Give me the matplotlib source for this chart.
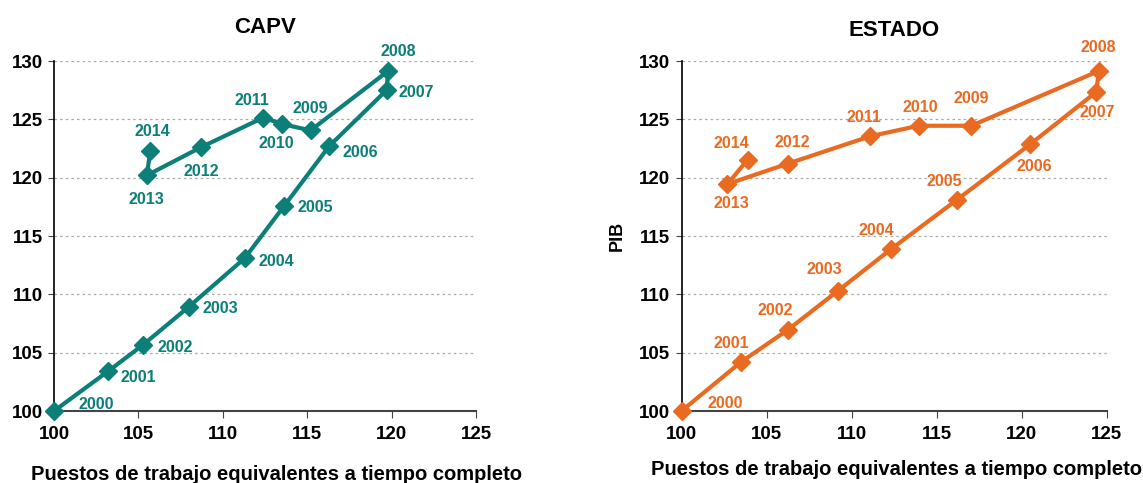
import matplotlib
matplotlib.use("Agg")
import matplotlib.pyplot as plt

plt.rcParams['font.family'] = ['Liberation Sans', 'DejaVu Sans']
plt.rcParams['font.weight'] = 'bold'

years = list(range(2000, 2015))

# CAPV: empleo (x) y PIB (y), indice 2000 = 100
capv_empleo = [100, 103.2, 105.3, 108.0, 111.3, 113.65, 116.3, 119.7, 119.8,
               115.2, 113.5, 112.4, 108.7, 105.5, 105.7]
capv_pib = [100, 103.4, 105.7, 108.95, 113.1, 117.6, 122.7, 127.5, 129.15,
            124.05, 124.6, 125.15, 122.6, 120.2, 122.25]

# ESTADO
estado_empleo = [100, 103.5, 106.25, 109.2, 112.35, 116.2, 120.5, 124.4, 124.55,
                 117.05, 113.95, 111.1, 106.25, 102.7, 103.9]
estado_pib = [100, 104.2, 106.95, 110.3, 113.9, 118.1, 122.85, 127.35, 129.15,
              124.45, 124.45, 123.55, 121.2, 119.45, 121.55]

# label offsets in pixels (dx, dy downwards)
capv_off = [(42, -7), (30, 6), (32, 3), (31, 2), (32, 3), (31, 2), (31, 6), (30, 2),
            (10, -19), (0, -22), (-6, 19), (-11, -17), (0, 24), (0, 24), (2, -20)]
estado_off = [(44, -8), (-10, -19), (-12, -19), (-14, -21), (-15, -18), (-13, -18),
              (4, 22), (1, 21), (-1, -23), (0, -27), (2, -18), (-6, -19), (5, -21),
              (4, 19), (-16, -16)]

teal = '#0b7f78'
orange = '#e96a21'

fig = plt.figure(figsize=(11.43, 4.83), dpi=100)
W, H = 1143, 483
ax1 = fig.add_axes([54 / W, 1 - 411 / H, 422 / W, 350 / H])
ax2 = fig.add_axes([681.5 / W, 1 - 411 / H, 425 / W, 350 / H])

panels = [(ax1, 'CAPV', capv_empleo, capv_pib, capv_off, teal, 20, (0.527, -0.154)),
          (ax2, 'ESTADO', estado_empleo, estado_pib, estado_off, orange, 18, (0.507, -0.139))]

for ax, title, xs, ys, offs, col, tpad, lab_xy in panels:
    ax.plot(xs, ys, color=col, lw=3, marker='D', ms=9, zorder=3, clip_on=False)
    for yr, x, y, (dx, dy) in zip(years, xs, ys, offs):
        ax.annotate(str(yr), (x, y), xytext=(dx * 0.72, -dy * 0.72),
                    textcoords='offset points', ha='center', va='center',
                    color=col, fontsize=11.5, fontweight='bold', zorder=4)
    ax.set_xlim(100, 125)
    ax.set_ylim(100, 130)
    ax.set_xticks(range(100, 126, 5))
    ax.set_yticks(range(100, 131, 5))
    ax.tick_params(axis='both', labelsize=13.5)
    ax.tick_params(axis='y', length=4, color='#444444', pad=4, direction='out')
    ax.tick_params(axis='x', length=5, color='#444444', pad=6, direction='out')
    ax.grid(axis='y', color='#aaaaaa', ls=(0, (2, 2.5)), lw=0.9)
    ax.set_axisbelow(True)
    for s in ['top', 'right']:
        ax.spines[s].set_visible(False)
    ax.spines['left'].set_color('black')
    ax.spines['bottom'].set_color('#444444')
    ax.spines['left'].set_linewidth(1.2)
    ax.spines['bottom'].set_linewidth(1.5)
    ax.set_title(title, fontsize=16, fontweight='bold', pad=tpad)
    ax.set_xlabel('Puestos de trabajo equivalentes a tiempo completo',
                  fontsize=14.5, fontweight='bold')
    ax.xaxis.set_label_coords(*lab_xy)

ax2.set_ylabel('PIB', fontsize=13, fontweight='bold', labelpad=10)

fig.savefig('out.png', dpi=100)
